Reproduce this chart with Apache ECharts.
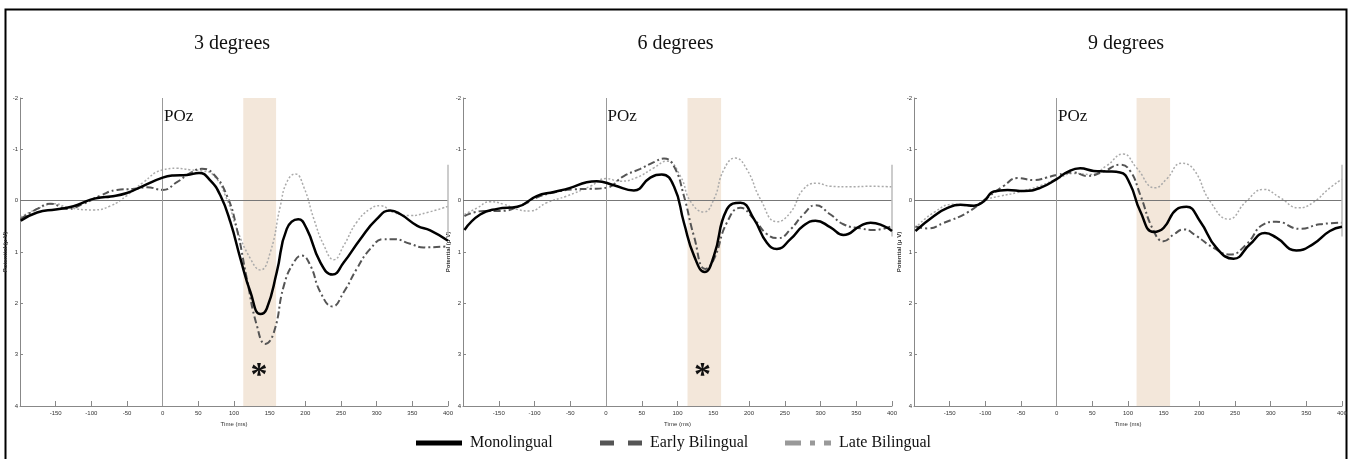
<!DOCTYPE html>
<html lang="en">
<head>
    <meta charset="UTF-8">
    <title>POz ERP</title>
    <style>
        html, body { margin: 0; padding: 0; background: #fff; }
    </style>
</head>
<body>
<div id="main" style="width: 1353px;height:459px;"></div>
<script src="https://cdn.jsdelivr.net/npm/echarts@6/dist/echarts.min.js"></script>
<script>
    // panel titles and the time window that is shaded in each panel
    var titles = ['3 degrees', '6 degrees', '9 degrees'];
    var bands = [[113, 159], [114, 161], [112, 159]];
    var starPanels = [0, 1];

    // [time (ms), potential (uV)]
    var mono3 = [[-199, 0.39], [-176, 0.23], [-150, 0.17], [-125, 0.11], [-101, -0.02], [-87, -0.06], [-73, -0.08],
        [-50, -0.15], [-27, -0.29], [0, -0.45], [15, -0.49], [34, -0.5], [51, -0.54], [67, -0.39], [81, -0.1],
        [95, 0.42], [109, 1.13], [123, 1.78], [137, 2.21], [146, 2.1], [160, 1.39], [174, 0.55], [190, 0.36],
        [202, 0.55], [221, 1.2], [238, 1.44], [254, 1.2], [277, 0.75], [300, 0.36], [319, 0.19], [333, 0.26],
        [357, 0.49], [375, 0.58], [400, 0.78]];
    var early3 = [[-199, 0.36], [-176, 0.16], [-157, 0.06], [-134, 0.16], [-111, 0.06], [-87, -0.1], [-64, -0.21],
        [-41, -0.23], [-22, -0.26], [0, -0.21], [20, -0.36], [39, -0.54], [55, -0.62], [71, -0.52], [90, -0.1],
        [104, 0.55], [118, 1.52], [132, 2.43], [144, 2.79], [156, 2.56], [170, 1.65], [184, 1.2], [195, 1.07],
        [207, 1.26], [221, 1.78], [238, 2.06], [254, 1.78], [272, 1.33], [291, 0.94], [310, 0.75], [324, 0.75],
        [347, 0.84], [366, 0.91], [400, 0.89]];
    var late3 = [[-199, 0.32], [-176, 0.16], [-150, 0.06], [-134, 0.13], [-97, 0.18], [-73, 0.1], [-50, -0.1],
        [-27, -0.36], [0, -0.6], [20, -0.63], [39, -0.6], [55, -0.58], [71, -0.5], [90, -0.03], [104, 0.55],
        [123, 1.13], [137, 1.35], [151, 1.0], [165, 0.1], [174, -0.36], [186, -0.52], [198, -0.26], [212, 0.36],
        [226, 0.87], [240, 1.15], [254, 0.87], [272, 0.42], [291, 0.16], [305, 0.1], [324, 0.23], [347, 0.29],
        [371, 0.23], [400, 0.11]];

    var mono6 = [[-198, 0.57], [-176, 0.27], [-152, 0.16], [-124, 0.12], [-97, -0.09], [-73, -0.17], [-50, -0.25],
        [-27, -0.36], [-13, -0.38], [11, -0.3], [39, -0.2], [62, -0.45], [78, -0.51], [95, -0.28], [109, 0.43],
        [123, 1.07], [138, 1.39], [151, 1.07], [169, 0.17], [188, 0.04], [207, 0.36], [225, 0.82], [239, 0.94],
        [258, 0.75], [276, 0.49], [293, 0.39], [314, 0.52], [332, 0.67], [356, 0.49], [370, 0.43], [388, 0.49],
        [400, 0.59]];
    var early6 = [[-198, 0.3], [-171, 0.2], [-148, 0.2], [-115, 0.07], [-97, -0.06], [-73, -0.16], [-45, -0.22],
        [-22, -0.23], [0, -0.25], [25, -0.48], [48, -0.62], [67, -0.75], [81, -0.82], [95, -0.67], [109, -0.09],
        [123, 0.69], [139, 1.33], [151, 1.14], [169, 0.43], [188, 0.14], [207, 0.36], [225, 0.65], [241, 0.73],
        [258, 0.56], [276, 0.27], [293, 0.09], [314, 0.27], [332, 0.46], [356, 0.54], [375, 0.57], [400, 0.49]];
    var late6 = [[-198, 0.27], [-180, 0.14], [-162, 0.02], [-143, 0.07], [-124, 0.17], [-106, 0.2], [-83, 0.04],
        [-55, -0.09], [-22, -0.28], [0, -0.43], [20, -0.38], [43, -0.45], [67, -0.64], [85, -0.77], [104, -0.48],
        [118, 0.01], [137, 0.22], [151, -0.03], [165, -0.61], [181, -0.83], [197, -0.61], [216, -0.03],
        [239, 0.41], [258, 0.23], [276, -0.22], [295, -0.34], [314, -0.28], [342, -0.27], [370, -0.28],
        [400, -0.27]];

    var mono9 = [[-198, 0.59], [-172, 0.3], [-153, 0.14], [-135, 0.08], [-116, 0.1], [-102, 0.01], [-88, -0.18],
        [-69, -0.21], [-46, -0.19], [-23, -0.25], [0, -0.42], [14, -0.55], [33, -0.63], [52, -0.58], [70, -0.57],
        [89, -0.55], [103, -0.32], [117, 0.2], [136, 0.61], [150, 0.53], [168, 0.17], [182, 0.12], [201, 0.4],
        [224, 0.92], [248, 1.13], [271, 0.85], [292, 0.63], [308, 0.72], [336, 0.97], [359, 0.85], [383, 0.59],
        [400, 0.51]];
    var early9 = [[-198, 0.5], [-181, 0.54], [-158, 0.43], [-125, 0.23], [-97, -0.06], [-74, -0.29], [-55, -0.44],
        [-32, -0.4], [-14, -0.45], [0, -0.5], [24, -0.55], [42, -0.48], [66, -0.57], [89, -0.7], [103, -0.58],
        [117, -0.12], [136, 0.59], [150, 0.79], [164, 0.66], [178, 0.56], [196, 0.69], [220, 0.92], [243, 1.05],
        [266, 0.85], [290, 0.46], [308, 0.41], [341, 0.55], [369, 0.46], [400, 0.43]];
    var late9 = [[-198, 0.53], [-172, 0.23], [-144, 0.07], [-121, 0.1], [-97, -0.03], [-79, -0.09], [-55, -0.16],
        [-23, -0.29], [0, -0.42], [24, -0.53], [47, -0.51], [70, -0.68], [93, -0.91], [112, -0.64], [138, -0.25],
        [154, -0.42], [175, -0.73], [192, -0.61], [215, 0.01], [241, 0.36], [266, 0.01], [290, -0.22],
        [313, -0.06], [339, 0.14], [359, 0.04], [383, -0.25], [400, -0.42]];

    var panels = [
        {mono: mono3, early: early3, late: late3},
        {mono: mono6, early: early6, late: late6},
        {mono: mono9, early: early9, late: late9}
    ];

    var gridLeft = [20, 463, 914];
    var gridWidth = [428, 429, 428];

    var myChart = echarts.init(document.getElementById('main'));

    var grids = [], xAxes = [], yAxes = [], series = [], titleList = [];
    var tinyFont = {fontFamily: 'Liberation Sans', fontSize: 6, color: '#333'};

    for (var i = 0; i < 3; i++) {
        grids.push({left: gridLeft[i], width: gridWidth[i], top: 98, height: 308});
        titleList.push({
            text: titles[i],
            left: gridLeft[i] + gridWidth[i] / 2 - 7,
            top: 29,
            textAlign: 'center',
            textStyle: {fontFamily: 'Liberation Serif', fontSize: 20, fontWeight: 'normal', color: '#111'}
        });
        xAxes.push({
            type: 'value', gridIndex: i, min: -200, max: 400, interval: 50,
            name: 'Time (ms)', nameLocation: 'middle', nameGap: 15,
            nameTextStyle: tinyFont,
            axisLine: {onZero: false, lineStyle: {color: '#888'}},
            axisTick: {inside: true, length: 5, lineStyle: {color: '#888'}},
            axisLabel: Object.assign({showMinLabel: false, margin: 4}, tinyFont),
            splitLine: {show: false}
        });
        yAxes.push({
            type: 'value', gridIndex: i, min: -2, max: 4, interval: 1, inverse: true,
            name: 'Potential (\u03bc V)', nameLocation: 'middle', nameGap: 11, nameRotate: 90,
            nameTextStyle: Object.assign({fontWeight: 'bold'}, tinyFont),
            axisLine: {show: true, onZero: false, lineStyle: {color: '#888'}},
            axisTick: {show: true, inside: true, length: 3, lineStyle: {color: '#888'}},
            axisLabel: Object.assign({margin: 2}, tinyFont),
            splitLine: {show: false}
        });

        var marks = [
            {name: 'POz', coord: [2, -1.64], value: 'POz',
                label: {position: 'right', distance: 0, fontFamily: 'Liberation Serif', fontSize: 17, color: '#111'}}
        ];
        if (starPanels.indexOf(i) >= 0) {
            marks.push({name: 'star', coord: [135, 3.42], value: '*',
                label: {position: 'inside', fontFamily: 'Liberation Serif', fontSize: 34, fontWeight: 'bold', color: '#111'}});
        }

        series.push({
            name: 'Monolingual', type: 'line', xAxisIndex: i, yAxisIndex: i,
            data: panels[i].mono, smooth: true, showSymbol: false, z: 5,
            color: '#000',
            lineStyle: {color: '#000', width: 2.5},
            markArea: {
                silent: true,
                itemStyle: {color: '#f3e7da'},
                data: [[{xAxis: bands[i][0]}, {xAxis: bands[i][1]}]]
            },
            markLine: {
                silent: true, symbol: ['none', 'none'], label: {show: false},
                data: [
                    {yAxis: 0, lineStyle: {color: '#777', width: 1, type: 'solid'}},
                    {xAxis: 0, lineStyle: {color: '#999', width: 1, type: 'solid'}},
                    [{coord: [400, -0.7], lineStyle: {color: '#bbb', width: 1.5, type: 'solid'}}, {coord: [400, 0.7]}]
                ]
            },
            markPoint: {
                silent: true, symbol: 'circle', symbolSize: 0,
                label: {show: true, formatter: '{c}'},
                data: marks
            }
        });
        series.push({
            name: 'Early Bilingual', type: 'line', xAxisIndex: i, yAxisIndex: i,
            data: panels[i].early, smooth: true, showSymbol: false, z: 4,
            color: '#555',
            lineStyle: {color: '#555', width: 2, type: [7, 3, 2, 3]}
        });
        series.push({
            name: 'Late Bilingual', type: 'line', xAxisIndex: i, yAxisIndex: i,
            data: panels[i].late, smooth: true, showSymbol: false, z: 3,
            color: '#aaa',
            lineStyle: {color: '#aaa', width: 1.5, type: [2, 2]}
        });
    }

    var legendText = {fontFamily: 'Liberation Serif', fontSize: 16, color: '#111', padding: [0, 0, 0, 3]};
    var legendBase = {top: 430, itemHeight: 5, selectedMode: false, symbolKeepAspect: false,
        textStyle: legendText, itemStyle: {borderWidth: 0}, lineStyle: {width: 0}};

    option = {
        animation: false,
        backgroundColor: '#fff',
        title: titleList,
        grid: grids,
        xAxis: xAxes,
        yAxis: yAxes,
        legend: [
            Object.assign({}, legendBase, {left: 411, itemWidth: 46,
                data: [{name: 'Monolingual', icon: 'rect', itemStyle: {color: '#000'}}]}),
            Object.assign({}, legendBase, {left: 595, itemWidth: 42,
                data: [{name: 'Early Bilingual', icon: 'path://M0,0h14v5h-14z M28,0h14v5h-14z', itemStyle: {color: '#555'}}]}),
            Object.assign({}, legendBase, {left: 780, itemWidth: 46,
                data: [{name: 'Late Bilingual', icon: 'path://M0,0h16v5h-16z M25,0h5v5h-5z M39,0h7v5h-7z', itemStyle: {color: '#999'}}]})
        ],
        graphic: [{
            type: 'polyline',
            shape: {points: [[5.5, 459], [5.5, 9.5], [1346.5, 9.5], [1346.5, 459]]},
            style: {stroke: '#000', lineWidth: 2, fill: null}
        }],
        series: series
    };

    myChart.setOption(option);
</script>
</body>
</html>
